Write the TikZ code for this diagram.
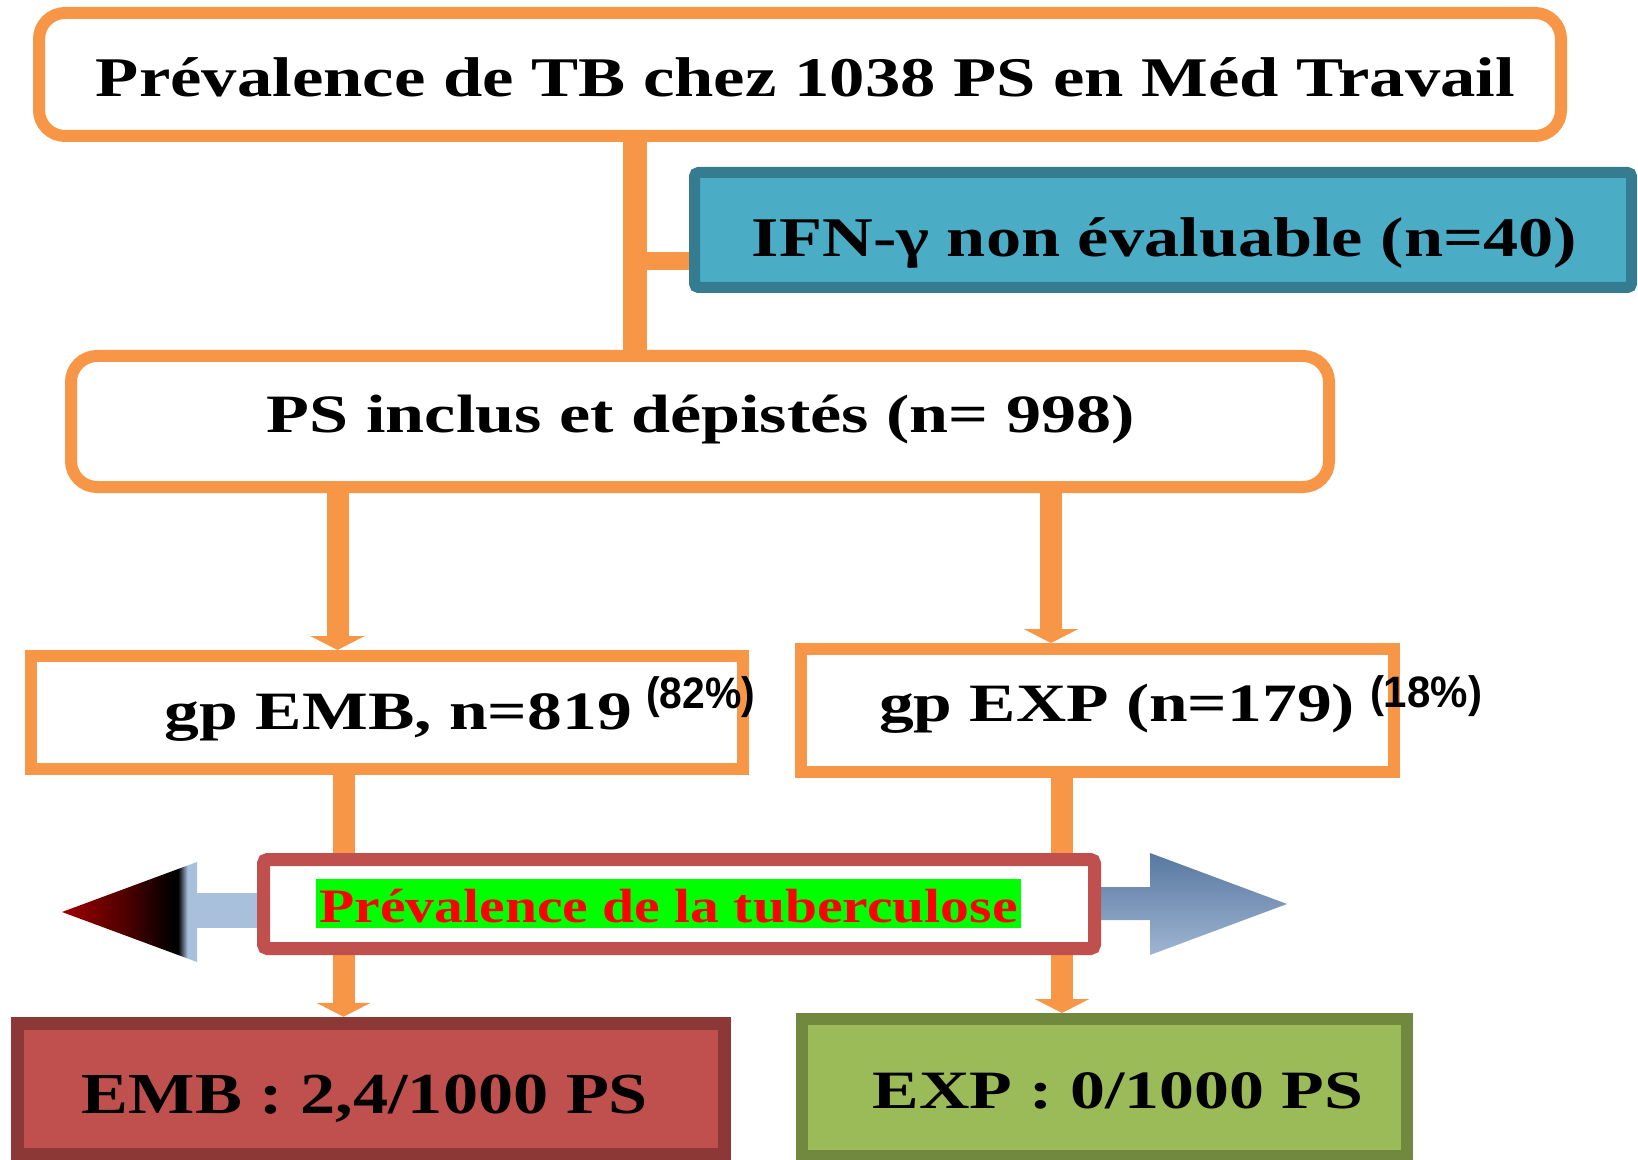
\documentclass[tikz,border=0pt]{standalone}
\usepackage{fontspec}
\setmainfont{Liberation Serif}
\newfontfamily\pctfont{Liberation Sans}
\usepackage{graphicx}
\usetikzlibrary{arrows.meta}

\definecolor{orng}{HTML}{F79646}
\definecolor{ifnblue}{HTML}{4BACC6}
\definecolor{ifnedge}{HTML}{367C90}
\definecolor{midred}{HTML}{C0504D}
\definecolor{embfill}{HTML}{C0504D}
\definecolor{embedge}{HTML}{8C3836}
\definecolor{expfill}{HTML}{9BBB59}
\definecolor{expedge}{HTML}{71893F}
\definecolor{paleblue}{HTML}{A9C0DD}
\definecolor{tipred}{HTML}{A00000}
\definecolor{steeltop}{HTML}{5878A0}
\definecolor{steelbot}{HTML}{9FB5D2}

\pgfdeclarelayer{background}
\pgfsetlayers{background,main}
\pgfdeclarehorizontalshading{redtip}{100bp}{color(0bp)=(tipred); color(25bp)=(tipred);
  color(50bp)=(tipred!45!black); color(66bp)=(black); color(68bp)=(black);
  color(71.5bp)=(paleblue); color(100bp)=(paleblue)}

\newcommand{\widen}[2]{\resizebox{#1}{\height}{#2}}

\begin{document}
\begin{tikzpicture}[x=0.5pt,y=-0.5pt,
  box/.style={draw=orng,fill=white,line width=6pt,inner sep=0pt},
  lbl/.style={anchor=base,inner sep=0pt},
  pct/.style={anchor=base,inner sep=0pt,font=\pctfont\bfseries\fontsize{22pt}{24pt}\selectfont},
  trunk/.style={draw=orng,line width=12pt},
  arr/.style={draw=orng,line width=11pt,-{Triangle[width=27pt,length=7pt]}}]

\useasboundingbox (0,0) rectangle (1638,1160);

\node [box,rounded corners=13pt,minimum width=761pt,minimum height=61.5pt] (top) at (800,74.5) {};
\node [box,draw=ifnedge,fill=ifnblue,line width=5.5pt,rounded corners=2pt,minimum width=468.5pt,minimum height=57.5pt] (ifn) at (1163,230) {};
\node [box,rounded corners=13pt,minimum width=629pt,minimum height=65.5pt] (ps) at (700,421.5) {};
\node [box,minimum width=356pt,minimum height=56.5pt] (emb) at (387,712.5) {};
\node [box,minimum width=296.5pt,minimum height=61.5pt] (exp) at (1097.5,710.5) {};
\node [box,draw=embedge,fill=embfill,line width=6.5pt,minimum width=353.75pt,minimum height=65.75pt] (embres) at (370.75,1089) {};
\node [box,draw=expedge,fill=expfill,minimum width=302.5pt,minimum height=68.5pt] (expres) at (1104.5,1087.5) {};

\coordinate (trunkx) at (635,0);
\coordinate (branchy) at (0,261);
\coordinate (xa) at (337.5,0);
\coordinate (xb) at (1051,0);
\coordinate (xc) at (343.5,0);
\coordinate (xd) at (1062,0);

\begin{pgfonlayer}{background}
\draw [trunk] (top.south -| trunkx) -- (ps.north -| trunkx);
\draw [trunk,line width=9pt] (trunkx |- branchy) -- (ifn.west |- branchy);
\draw [arr] (ps.south -| xa) -- (emb.north -| xa);
\draw [arr] (ps.south -| xb) -- (exp.north -| xb);
\draw [arr] (emb.south -| xc) -- (embres.north -| xc);
\draw [arr] (exp.south -| xd) -- (expres.north -| xd);
\end{pgfonlayer}

\fill [paleblue] (192,893) rectangle (262,928);
\shade [shading=redtip] (62,912) -- (197,862) -- (197,962) -- cycle;
\shade [top color=steeltop,bottom color=steelbot] (1098,887) -- (1150,887) -- (1150,853) -- (1287,904) -- (1150,955) -- (1150,920) -- (1098,920) -- cycle;

\node [box,draw=midred,line width=6.5pt,rounded corners=2pt,minimum width=415.5pt,minimum height=44.5pt] (mid) at (679,904) {};

\node [lbl,font=\bfseries\fontsize{28pt}{30pt}\selectfont] (ttop) at (805.5,97) {\widen{709.5pt}{Prévalence de TB chez 1038 PS en Méd Travail}};
\node [lbl,font=\bfseries\fontsize{28pt}{30pt}\selectfont] (tifn) at (1164.5,257) {\widen{412.5pt}{IFN-γ non évaluable (n=40)}};
\node [lbl,font=\bfseries\fontsize{27pt}{30pt}\selectfont] (tps) at (701,433) {\widen{434pt}{PS inclus et dépistés (n= 998)}};
\node [lbl,font=\bfseries\fontsize{27pt}{30pt}\selectfont] (temb) at (398.5,729) {\widen{233.5pt}{gp EMB, n=819}};
\node [pct] (pemb) at (700.5,708) {\widen{54.5pt}{(82\%)}};
\node [lbl,font=\bfseries\fontsize{27pt}{30pt}\selectfont] (texp) at (1117,721) {\widen{238pt}{gp EXP (n=179)}};
\node [pct] (pexp) at (1426,707) {\widen{56pt}{(18\%)}};
\node [lbl,fill=green,text=red,inner xsep=1.75pt,text height=21.5pt,text depth=3pt,font=\bfseries\fontsize{24pt}{26pt}\selectfont] (tmid) at (668.5,922) {\widen{349pt}{Prévalence de la tuberculose}};
\node [lbl,font=\bfseries\fontsize{29pt}{31pt}\selectfont] (tembres) at (365,1113) {\widen{283pt}{EMB : 2,4/1000 PS}};
\node [lbl,font=\bfseries\fontsize{27pt}{30pt}\selectfont] (texpres) at (1118,1108) {\widen{245.5pt}{EXP : 0/1000 PS}};

\end{tikzpicture}
\end{document}
